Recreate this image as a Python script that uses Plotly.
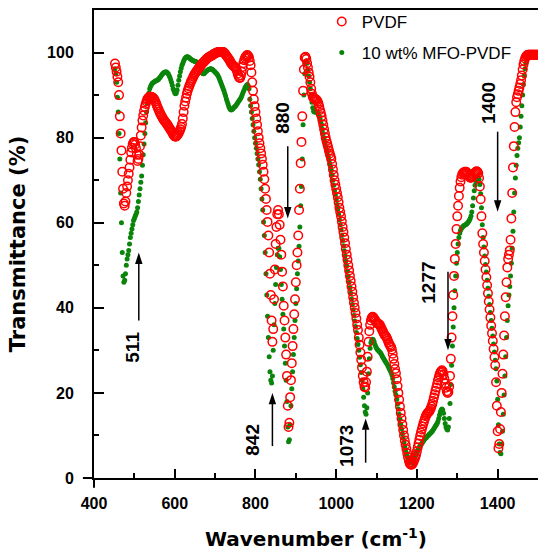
import numpy as np
import plotly.graph_objects as go

# FTIR spectra sampled every 2 cm^-1 from 452 to 1500 cm^-1
wavenumber = np.arange(452, 1501, 2)

# Transmittance (%) of neat PVDF
pvdf = [
    97.4, 96.5, 95.5, 94.3, 93.0, 90.0, 85.0, 81.0, 77.0, 72.0,
    68.0, 64.5, 64.0, 65.0, 67.0, 68.5, 70.0, 71.5, 73.0, 74.8,
    76.5, 77.6, 78.5, 78.9, 79.0, 78.4, 77.5, 76.0, 74.5, 75.0,
    76.0, 78.0, 80.5, 82.4, 84.0, 85.2, 86.3, 87.2, 87.9, 88.5,
    89.0, 89.3, 89.5, 89.6, 89.6, 89.6, 89.5, 89.4, 89.2, 88.9,
    88.5, 88.0, 87.5, 87.0, 86.6, 86.1, 85.7, 85.3, 85.0, 84.6,
    84.3, 84.0, 83.8, 83.5, 83.3, 83.0, 82.7, 82.4, 82.1, 81.8,
    81.5, 81.2, 80.8, 80.5, 80.3, 80.2, 80.3, 80.5, 80.8, 81.1,
    81.5, 82.0, 82.5, 83.2, 84.5, 86.0, 87.5, 88.5, 89.4, 90.3,
    91.0, 91.6, 92.1, 92.6, 93.1, 93.5, 93.9, 94.3, 94.7, 95.0,
    95.3, 95.6, 95.9, 96.1, 96.4, 96.6, 96.9, 97.2, 97.4, 97.6,
    97.8, 98.0, 98.2, 98.4, 98.6, 98.7, 98.9, 99.0, 99.1, 99.2,
    99.3, 99.4, 99.6, 99.7, 99.8, 99.9, 100.0, 100.0, 100.1, 100.1,
    100.1, 100.1, 100.1, 100.1, 100.1, 100.0, 99.8, 99.5, 99.3, 99.0,
    98.7, 98.5, 98.2, 97.8, 97.5, 97.2, 97.0, 96.8, 96.7, 96.5,
    96.2, 95.7, 95.0, 94.5, 94.1, 94.0, 94.6, 95.5, 96.6, 97.5,
    98.2, 98.7, 99.0, 99.3, 99.4, 99.2, 98.8, 98.0, 97.0, 95.3,
    93.0, 91.0, 89.0, 87.4, 86.0, 84.5, 83.0, 81.5, 80.0, 78.7,
    77.5, 76.3, 75.0, 73.6, 72.0, 70.2, 68.0, 65.6, 63.0, 60.2,
    57.0, 53.0, 48.0, 43.0, 37.0, 32.0, 35.0, 42.0, 49.0, 55.0,
    59.0, 62.0, 63.0, 62.0, 59.5, 56.0, 52.5, 48.5, 45.0, 40.5,
    37.0, 33.0, 29.0, 24.0, 17.0, 12.0, 13.0, 19.0, 23.0, 27.0,
    31.0, 35.0, 38.5, 42.0, 46.0, 50.0, 53.0, 57.0, 63.0, 68.0,
    74.0, 79.0, 85.0, 91.0, 96.0, 98.8, 99.0, 98.5, 97.5, 96.5,
    95.3, 94.3, 93.0, 91.5, 90.3, 89.6, 89.3, 89.2, 89.0, 89.0,
    88.8, 88.5, 88.0, 87.3, 86.5, 85.8, 85.0, 84.0, 83.0, 82.0,
    81.0, 80.0, 79.2, 78.5, 77.8, 77.0, 76.3, 75.7, 75.0, 73.8,
    72.5, 71.2, 70.0, 69.0, 68.0, 67.0, 66.0, 64.8, 63.5, 62.5,
    61.5, 60.3, 59.0, 57.8, 56.5, 55.2, 53.8, 52.5, 51.3, 50.0,
    48.8, 47.5, 46.3, 45.0, 43.8, 42.5, 41.2, 40.0, 38.8, 37.5,
    36.0, 34.8, 33.0, 31.3, 29.5, 27.8, 26.0, 24.0, 22.5, 21.5,
    21.3, 22.5, 25.0, 28.5, 32.0, 34.5, 36.0, 37.0, 37.6, 37.9,
    37.8, 37.5, 37.2, 36.9, 36.5, 36.3, 36.2, 36.2, 36.0, 35.6,
    35.2, 34.8, 34.4, 34.0, 33.6, 33.4, 33.2, 32.8, 32.3, 31.8,
    31.4, 31.0, 30.8, 30.2, 29.2, 28.0, 26.8, 25.6, 24.6, 23.2,
    21.6, 20.0, 18.4, 16.8, 15.3, 14.0, 12.6, 11.3, 10.0, 8.8,
    7.8, 6.8, 5.8, 4.9, 4.1, 3.5, 3.2, 3.1, 3.2, 3.5,
    3.9, 4.4, 4.9, 5.5, 6.3, 7.2, 8.1, 9.0, 9.9, 10.7,
    11.4, 12.1, 12.8, 13.4, 14.0, 14.5, 14.9, 15.2, 15.4, 15.6,
    15.9, 16.3, 16.8, 17.4, 18.1, 18.9, 19.7, 20.5, 21.3, 22.1,
    22.9, 23.6, 24.3, 24.8, 25.1, 25.3, 25.0, 24.3, 23.3, 22.2,
    21.2, 20.4, 20.0, 20.2, 21.5, 24.0, 28.0, 33.0, 38.0, 43.0,
    47.5, 51.5, 55.0, 58.5, 61.5, 64.0, 66.3, 68.2, 69.7, 70.7,
    71.3, 71.7, 71.8, 71.9, 72.0, 72.0, 71.8, 71.5, 71.1, 70.8,
    70.6, 70.6, 70.7, 70.9, 71.2, 71.5, 71.8, 72.0, 72.1, 72.0,
    71.6, 70.5, 68.5, 65.5, 61.5, 57.5, 55.0, 53.0, 51.0, 49.0,
    47.2, 45.3, 43.4, 41.5, 39.6, 37.7, 35.8, 34.0, 32.2, 30.3,
    28.4, 26.5, 22.5, 17.0, 11.0, 7.0, 8.0, 11.5, 15.5, 20.0,
    24.5, 29.0, 33.5, 38.0, 42.5, 46.0, 49.5, 51.5, 52.5, 53.5,
    56.0, 61.0, 67.0, 73.0, 78.0, 82.5, 86.0, 88.3, 89.5, 90.2,
    91.0, 91.8, 92.6, 93.5, 94.6, 96.0, 97.2, 98.0, 98.6, 99.0,
    99.3, 99.4, 99.5, 99.5, 99.5, 99.5, 99.5, 99.5, 99.5, 99.5,
    99.5, 99.5, 99.5, 99.5, 99.5,
]

# Transmittance (%) of the 10 wt% MFO-PVDF composite
mfo_pvdf = [
    96.2, 95.0, 93.0, 89.5, 86.0, 81.0, 75.0, 67.0, 60.0, 53.0,
    47.5, 46.0, 46.5, 48.0, 50.0, 51.5, 52.5, 53.5, 55.0, 56.5,
    57.5, 58.5, 59.5, 60.5, 61.0, 61.5, 62.0, 62.5, 63.5, 65.0,
    66.5, 68.0, 69.5, 71.0, 73.5, 76.0, 78.5, 81.0, 83.5, 86.0,
    88.0, 89.5, 90.5, 91.5, 92.0, 92.4, 92.7, 92.9, 93.0, 93.2,
    93.3, 93.4, 93.5, 93.6, 93.7, 94.0, 94.2, 94.5, 94.8, 95.0,
    95.2, 95.3, 95.4, 95.4, 95.4, 95.2, 95.0, 94.6, 94.2, 93.6,
    93.0, 92.3, 91.5, 91.0, 90.5, 90.3, 90.5, 91.2, 92.3, 93.5,
    94.5, 95.5, 96.3, 97.0, 97.5, 98.0, 98.4, 98.7, 98.9, 99.0,
    99.0, 98.9, 98.8, 98.6, 98.4, 98.3, 98.2, 98.1, 98.0, 97.9,
    97.9, 97.8, 97.6, 97.3, 96.9, 96.5, 96.0, 95.6, 95.2, 95.0,
    95.0, 95.2, 95.4, 95.6, 95.8, 95.9, 96.0, 96.1, 96.2, 96.2,
    96.1, 96.0, 95.8, 95.6, 95.4, 95.2, 95.0, 94.8, 94.4, 94.0,
    93.5, 93.0, 92.5, 92.0, 91.5, 91.0, 90.4, 89.8, 89.1, 88.5,
    87.9, 87.3, 86.9, 86.6, 86.5, 86.6, 86.8, 87.0, 87.2, 87.4,
    87.6, 87.9, 88.2, 88.5, 88.8, 89.0, 89.4, 89.8, 90.3, 90.8,
    91.2, 91.7, 92.0, 92.3, 92.5, 92.2, 91.5, 89.0, 87.5, 86.0,
    84.5, 83.0, 81.5, 80.0, 78.7, 77.5, 76.3, 75.0, 73.6, 72.0,
    70.2, 68.0, 65.6, 63.0, 60.2, 57.0, 53.0, 48.0, 43.0, 38.0,
    33.0, 28.5, 25.0, 23.0, 22.3, 24.0, 30.0, 36.0, 41.0, 45.5,
    49.5, 52.5, 54.0, 54.0, 52.0, 49.0, 45.5, 42.0, 38.5, 35.0,
    31.0, 27.0, 23.0, 18.0, 12.0, 8.5, 9.0, 12.5, 17.0, 21.0,
    25.0, 29.0, 33.0, 37.0, 41.0, 44.5, 48.0, 51.0, 54.5, 59.0,
    64.0, 68.5, 75.0, 83.0, 90.0, 95.0, 97.5, 98.0, 97.5, 96.0,
    94.5, 93.0, 91.5, 90.0, 88.3, 87.0, 86.2, 86.0, 86.0, 86.0,
    86.0, 85.8, 85.4, 85.0, 84.4, 83.7, 83.0, 82.0, 81.0, 80.0,
    79.0, 78.0, 77.2, 76.5, 75.6, 74.8, 74.0, 73.2, 72.3, 71.2,
    70.0, 68.8, 67.6, 66.5, 65.4, 64.3, 63.2, 62.0, 60.7, 59.5,
    58.3, 57.0, 55.8, 54.6, 53.4, 52.2, 51.0, 49.8, 48.6, 47.3,
    46.0, 44.7, 43.4, 42.1, 40.8, 39.5, 38.2, 36.9, 35.6, 34.2,
    32.8, 31.4, 30.0, 28.4, 26.6, 24.8, 23.0, 21.0, 19.0, 17.0,
    15.5, 15.0, 16.5, 20.0, 24.5, 28.0, 30.5, 31.8, 32.4, 32.6,
    32.5, 32.0, 31.4, 30.9, 30.5, 30.2, 30.0, 29.8, 29.6, 29.4,
    29.1, 28.7, 28.3, 28.0, 27.7, 27.4, 27.1, 26.8, 26.4, 26.0,
    25.6, 25.2, 24.8, 24.2, 23.4, 22.4, 21.4, 20.4, 19.5, 18.5,
    17.4, 16.2, 15.0, 13.8, 12.6, 11.5, 10.4, 9.4, 8.4, 7.5,
    6.7, 5.9, 5.2, 4.6, 4.1, 3.8, 3.6, 3.5, 3.6, 3.9,
    4.3, 4.8, 5.3, 5.8, 6.2, 6.6, 6.9, 7.2, 7.5, 7.8,
    8.1, 8.4, 8.7, 9.0, 9.2, 9.4, 9.6, 9.8, 10.0, 10.2,
    10.4, 10.6, 10.8, 11.0, 11.3, 11.6, 11.9, 12.2, 12.5, 12.8,
    13.3, 14.0, 14.8, 15.5, 16.0, 16.2, 16.0, 15.2, 14.0, 12.8,
    12.0, 11.5, 11.3, 12.0, 14.0, 17.5, 22.0, 26.5, 31.0, 35.5,
    40.0, 44.0, 47.5, 50.5, 53.0, 55.0, 56.5, 57.5, 58.2, 58.6,
    58.9, 59.1, 59.3, 59.4, 59.5, 59.6, 59.8, 60.0, 60.3, 60.6,
    61.0, 61.6, 62.5, 64.0, 65.8, 67.5, 68.8, 69.8, 70.5, 70.8,
    70.8, 70.2, 69.0, 66.8, 63.5, 59.5, 56.5, 54.3, 52.2, 50.2,
    48.4, 46.5, 44.6, 42.7, 40.8, 38.9, 37.0, 35.2, 33.4, 31.5,
    29.6, 27.7, 25.7, 22.8, 18.5, 12.5, 8.0, 6.0, 5.7, 8.0,
    11.0, 15.0, 19.5, 24.0, 28.5, 33.0, 37.0, 40.5, 43.0, 45.0,
    47.5, 50.5, 54.0, 58.0, 62.5, 67.0, 70.5, 73.5, 75.8, 77.5,
    78.8, 80.0, 82.5, 85.0, 87.5, 90.0, 92.5, 94.5, 96.2, 97.5,
    98.3, 98.8, 99.1, 99.3, 99.4, 99.4, 99.4, 99.4, 99.4, 99.4,
    99.4, 99.4, 99.4, 99.4, 99.4,
]

assert len(pvdf) == len(wavenumber) == len(mfo_pvdf)

# Marked absorption bands (cm^-1) and the transmittance span of each arrow
band_labels = [511, 842, 880, 1073, 1277, 1400]
arrow_from = [37.0, 7.5, 78.0, 3.6, 48.5, 81.4]
arrow_to = [53.0, 20.0, 61.0, 14.0, 30.0, 62.6]
# where each rotated band label sits (wavenumber, transmittance)
label_at = [(496, 30.8), (794, 9.0), (865, 84.6), (1025, 7.6), (1229, 45.8), (1377, 88.2)]

FONT = "Liberation Sans, Arial, sans-serif"
TITLE_FONT = "DejaVu Sans, Verdana, sans-serif"

fig = go.Figure()
fig.add_trace(go.Scatter(
    x=wavenumber, y=mfo_pvdf, mode="markers", name="10 wt% MFO-PVDF",
    legendgroup="b", legendrank=2,
    marker=dict(symbol="circle", size=5, color="#0a850a", line=dict(width=0)),
))
fig.add_trace(go.Scatter(
    x=wavenumber, y=pvdf, mode="markers", name="PVDF",
    legendgroup="a", legendrank=1,
    marker=dict(symbol="circle-open", size=8.5, color="#ff0000",
                line=dict(width=1.5, color="#ff0000")),
))

# vertical arrows pointing at the bands: a shaft plus an arrow-shaped marker
# at the tip, oriented along the shaft
for band, y0, y1 in zip(band_labels, arrow_from, arrow_to):
    fig.add_trace(go.Scatter(
        x=[band, band], y=[y0, y1], mode="lines+markers",
        line=dict(color="black", width=1.5),
        marker=dict(symbol="arrow", size=[0, 12], angleref="previous",
                    color="black", opacity=[0, 1], line=dict(width=0)),
        showlegend=False, hoverinfo="skip",
    ))

annotations = []
for band, (lx, ly) in zip(band_labels, label_at):
    annotations.append(dict(
        x=lx, y=ly, xref="x", yref="y", text="<b>%d</b>" % band, showarrow=False,
        textangle=-90, font=dict(family=FONT, size=19, color="black"),
    ))

# short overhangs of the axis lines at the origin corner
shapes = [
    dict(type="line", xref="paper", yref="paper", x0=-0.025, x1=0, y0=0, y1=0,
         line=dict(color="black", width=2)),
    dict(type="line", xref="paper", yref="paper", x0=0, x1=0, y0=-0.021, y1=0,
         line=dict(color="black", width=2)),
]

fig.update_layout(
    width=538, height=551,
    margin=dict(l=94, r=0, t=10, b=73),
    paper_bgcolor="white", plot_bgcolor="white",
    font=dict(family=FONT, color="black"),
    showlegend=True,
    legend=dict(
        x=0.513, y=1.013, xanchor="left", yanchor="top",
        traceorder="grouped", tracegroupgap=6,
        font=dict(family=FONT, size=17, color="black"),
        bgcolor="rgba(0,0,0,0)", borderwidth=0,
    ),
    annotations=annotations,
    shapes=shapes,
    xaxis=dict(
        range=[400, 1500], tick0=400, dtick=200,
        ticks="inside", ticklen=9, tickwidth=1.5, tickcolor="black",
        minor=dict(dtick=100, ticks="inside", ticklen=5, tickwidth=1.5, tickcolor="black"),
        showline=True, linewidth=2, linecolor="black", mirror=True,
        showgrid=False, zeroline=False,
        tickfont=dict(family=FONT, size=16, color="black", weight="bold"),
        ticklabelstandoff=10,
        title=dict(text="<b>Wavenumber (cm<sup>-1</sup>)</b>", standoff=22,
                   font=dict(family=TITLE_FONT, size=20, color="black")),
    ),
    yaxis=dict(
        range=[0, 110], tick0=0, dtick=20,
        ticks="inside", ticklen=10, tickwidth=1.5, tickcolor="black",
        minor=dict(dtick=10, ticks="inside", ticklen=5, tickwidth=1.5, tickcolor="black"),
        showline=True, linewidth=2, linecolor="black", mirror=False,
        showgrid=False, zeroline=False,
        tickfont=dict(family=FONT, size=16, color="black", weight="bold"),
        ticklabelstandoff=15,
        title=dict(text="<b>Transmittance (%)</b>", standoff=16,
                   font=dict(family=TITLE_FONT, size=21, color="black")),
    ),
)

fig.write_html("out.html")
